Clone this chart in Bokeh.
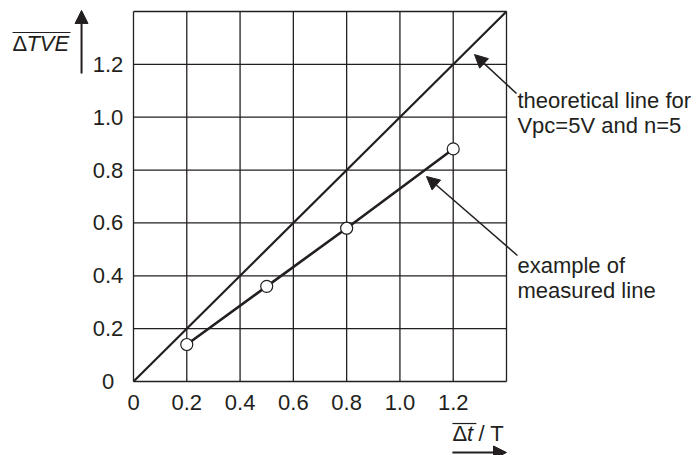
from bokeh.plotting import figure
from bokeh.models import Range1d, Arrow, NormalHead
from bokeh.core.properties import value
from bokeh.embed import file_html
from bokeh.resources import INLINE

# ---- data ----
meas_x = [0.2, 0.5, 0.8, 1.2]
meas_y = [0.14, 0.36, 0.58, 0.88]
theo_x = [0.0, 1.4]
theo_y = [0.0, 1.4]
grid_ticks = [0, 0.2, 0.4, 0.6, 0.8, 1.0, 1.2, 1.4]
x_ticks = [0, 0.2, 0.4, 0.6, 0.8, 1.0, 1.2]
x_tick_labels = ["0", "0.2", "0.4", "0.6", "0.8", "1.0", "1.2"]
y_ticks = [0, 0.2, 0.4, 0.6, 0.8, 1.0, 1.2]
y_tick_labels = ["0", "0.2", "0.4", "0.6", "0.8", "1.0", "1.2"]

INK = "#231f20"
FONT = "Liberation Sans"
FS = "22px"

W, H = 696, 455
X0PX, X1PX = 133, 506      # chart box in pixels
Y0PX, Y1PX = 381, 11
sx = (X1PX - X0PX) / 1.4
sy = (Y0PX - Y1PX) / 1.4

p = figure(width=W, height=H, output_backend="svg", toolbar_location=None,
           x_range=Range1d(-X0PX / sx, (W - X0PX) / sx),
           y_range=Range1d((Y0PX - H) / sy, Y0PX / sy),
           min_border=0)
p.outline_line_color = None
p.background_fill_color = "white"
p.border_fill_color = "white"
p.xaxis.visible = False
p.yaxis.visible = False
p.xgrid.visible = False
p.ygrid.visible = False

lo, hi = grid_ticks[0], grid_ticks[-1]
n = len(grid_ticks)
p.segment(x0=grid_ticks, y0=[lo] * n, x1=grid_ticks, y1=[hi] * n,
          line_color=INK, line_width=1.3)
p.segment(x0=[lo] * n, y0=grid_ticks, x1=[hi] * n, y1=grid_ticks,
          line_color=INK, line_width=1.3)

p.line(theo_x, theo_y, line_color=INK, line_width=2.2)
p.line(meas_x, meas_y, line_color=INK, line_width=2.6)
p.scatter(meas_x, meas_y, marker="circle", size=12, fill_color="white",
          line_color=INK, line_width=1.2)

# tick labels
p.text(x=x_ticks, y=[-0.0776] * len(x_ticks), text=x_tick_labels,
       text_font=value(FONT), text_font_size=FS, text_color=INK,
       text_align="center", text_baseline="middle")
p.text(x=[-0.0957] * len(y_ticks), y=y_ticks, text=y_tick_labels,
       text_font=value(FONT), text_font_size=FS, text_color=INK,
       text_align="center", text_baseline="middle")

def lab(x, y, text, style="normal", align="left"):
    p.text(x=[x], y=[y], text=[text], text_font=value(FONT), text_font_size=FS,
           text_color=INK, text_font_style=style, text_align=align,
           text_baseline="middle")

def seg(x0, y0, x1, y1, w=1.3, head=False):
    end = NormalHead(size=13, fill_color=INK, line_color=INK) if head else None
    p.add_layout(Arrow(x_start=x0, y_start=y0, x_end=x1, y_end=y1,
                       line_color=INK, line_width=w, end=end))

# annotations
lab(1.441, 1.063, "theoretical line for")
lab(1.441, 0.969, "Vpc=5V and n=5")
lab(1.441, 0.439, "example of")
lab(1.441, 0.344, "measured line")
seg(1.4375, 1.0897, 1.280, 1.237, w=1.5, head=True)
seg(1.441, 0.4768, 1.0997, 0.7757, w=1.5, head=True)

# y label
lab(-0.454, 1.279, "Δ")
lab(-0.402, 1.279, "TVE", style="italic")
seg(-0.454, 1.3205, -0.2365, 1.3205, w=1.2)
seg(-0.195, 1.165, -0.195, 1.404, w=2.0, head=True)

# x label
lab(1.197, -0.197, "Δ")
lab(1.252, -0.197, "t", style="italic")
lab(1.295, -0.197, "/ T")
seg(1.197, -0.159, 1.287, -0.159, w=1.2)
seg(1.197, -0.2686, 1.400, -0.2686, w=2.0, head=True)

open("out.html", "w").write(file_html(p, INLINE))
